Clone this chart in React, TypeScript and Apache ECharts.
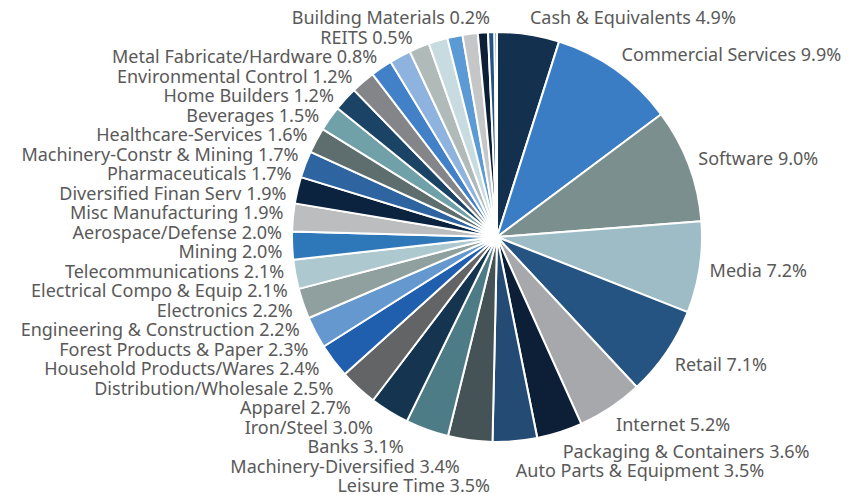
import React, { useEffect, useRef } from "react";
import * as echarts from "echarts";

const categories = [
  "Cash & Equivalents", "Commercial Services", "Software", "Media", "Retail", "Internet",
  "Packaging & Containers", "Auto Parts & Equipment", "Leisure Time", "Machinery-Diversified",
  "Banks", "Iron/Steel", "Apparel", "Distribution/Wholesale", "Household Products/Wares",
  "Forest Products & Paper", "Engineering & Construction", "Electronics", "Electrical Compo & Equip",
  "Telecommunications", "Mining", "Aerospace/Defense", "Misc Manufacturing", "Diversified Finan Serv",
  "Pharmaceuticals", "Machinery-Constr & Mining", "Healthcare-Services", "Beverages", "Home Builders",
  "Environmental Control", "Metal Fabricate/Hardware", "REITS", "Building Materials",
];

const values = [
  4.9, 9.9, 9.0, 7.2, 7.1, 5.2, 3.6, 3.5, 3.5, 3.4, 3.1, 3.0, 2.7, 2.5, 2.4, 2.3, 2.2, 2.2,
  2.1, 2.1, 2.0, 2.0, 1.9, 1.9, 1.7, 1.7, 1.6, 1.5, 1.2, 1.2, 0.8, 0.5, 0.2,
];

const colors = [
  "#13304f", "#3b7dc4", "#7b8f8f", "#9dbcc5", "#255482", "#a6a8ab", "#0c1f36", "#244b73",
  "#465356", "#4e7c86", "#15344f", "#636466", "#1f5fae", "#6598cf", "#8fa09e", "#adc9cf",
  "#2e78ba", "#bcbdbf", "#0c2340", "#2e65a0", "#5e6e6e", "#70a0a8", "#1b4366", "#838588",
  "#4281c8", "#8db3de", "#b0bab8", "#c7dbe1", "#5b9ad5", "#c5c6c8", "#0c1f36", "#255482",
  "#3b7dc4",
];

// layout parameters
const W = 861;
const H = 495;
const CX = 497;
const CY = 237;
const RADIUS = 205;
const LABEL_R = 215;
const GAP = 19.5;
const TOP = 17;
const BOTTOM = H - 10;

type LabelPos = { x: number; y: number; align: "left" | "right" };

function computeLabelPositions(): LabelPos[] {
  const total = values.reduce((a, b) => a + b, 0);
  let cum = 0;
  const items = values.map((v, i) => {
    const mid = ((cum + v / 2) / total) * Math.PI * 2;
    cum += v;
    const s = Math.sin(mid);
    const c = Math.cos(mid);
    const px = CX + LABEL_R * s;
    const py = CY - LABEL_R * c;
    return { i, right: s >= 0, px, y: py - (GAP / 2) * c };
  });
  const out: LabelPos[] = new Array(values.length);
  for (const side of [true, false]) {
    const arr = items.filter((it) => it.right === side).sort((a, b) => a.y - b.y);
    for (let k = 0; k < arr.length; k++) {
      const min = k === 0 ? TOP : arr[k - 1].y + GAP;
      arr[k].y = Math.max(arr[k].y, min);
    }
    for (let k = arr.length - 1; k >= 0; k--) {
      const max = k === arr.length - 1 ? BOTTOM : arr[k + 1].y - GAP;
      arr[k].y = Math.min(arr[k].y, max);
    }
    for (const it of arr) {
      if (side) {
        out[it.i] = { x: it.px, y: it.y, align: "left" };
      } else {
        const dy = it.y - CY;
        const b = dy < 0 ? 218 : 232;
        const t = Math.max(0, 1 - (dy / b) * (dy / b));
        const x = Math.min(CX - 215 * Math.sqrt(t), CX - 7);
        out[it.i] = { x, y: it.y, align: "right" };
      }
    }
  }
  return out;
}

export default function App() {
  const ref = useRef<HTMLDivElement>(null);
  useEffect(() => {
    if (!ref.current) return;
    const chart = echarts.init(ref.current, undefined, { renderer: "svg" });
    const pos = computeLabelPositions();
    chart.setOption({
      animation: false,
      backgroundColor: "#ffffff",
      series: [
        {
          type: "pie",
          center: [CX, CY],
          radius: RADIUS,
          startAngle: 90,
          clockwise: true,
          avoidLabelOverlap: false,
          data: categories.map((name, i) => ({
            name,
            value: values[i],
            itemStyle: { color: colors[i] },
          })),
          itemStyle: { borderColor: "#ffffff", borderWidth: 2 },
          label: {
            show: true,
            position: "outside",
            color: "#595959",
            fontFamily: "Noto Sans",
            fontSize: 18,
            lineHeight: 19.5,
            formatter: (p: any) => `${p.name} ${Number(p.value).toFixed(1)}%`,
          },
          labelLine: { show: false, length: 6, length2: 0 },
          labelLayout: (params: any) => {
            const p = pos[params.dataIndex];
            return { x: p.x, y: p.y, align: p.align, verticalAlign: "middle" };
          },
        },
      ],
    });
    return () => chart.dispose();
  }, []);
  return (
    <div
      ref={ref}
      style={{ position: "absolute", left: 0, top: 0, width: W, height: H }}
    />
  );
}
